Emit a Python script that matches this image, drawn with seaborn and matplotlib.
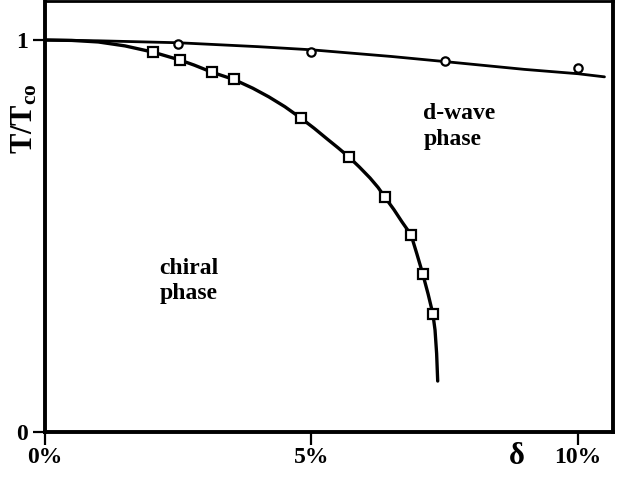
import matplotlib
matplotlib.use("Agg")
import matplotlib.pyplot as plt
import seaborn as sns
import pandas as pd

# ---- data ----
chiral_pts_x = [2.03, 2.53, 3.13, 3.55, 4.80, 5.70, 6.38, 6.87, 7.09, 7.28]
chiral_pts_y = [0.969, 0.949, 0.918, 0.901, 0.801, 0.702, 0.599, 0.503, 0.403, 0.301]

chiral_curve_x = [0, 0.5, 1.0, 1.5, 2.03, 2.53, 2.8, 3.13, 3.55, 3.9, 4.2, 4.5,
                  4.8, 5.05, 5.3, 5.5, 5.70, 5.9, 6.1, 6.25, 6.38, 6.55, 6.7,
                  6.87, 6.98, 7.09, 7.19, 7.28, 7.32, 7.35, 7.37]
chiral_curve_y = [1.0, 0.999, 0.995, 0.985, 0.969, 0.949, 0.936, 0.918, 0.899,
                  0.877, 0.855, 0.83, 0.801, 0.775, 0.747, 0.725, 0.702, 0.676,
                  0.648, 0.624, 0.599, 0.567, 0.536, 0.503, 0.454, 0.403, 0.352,
                  0.301, 0.26, 0.20, 0.13]

dwave_pts_x = [2.5, 5.0, 7.5, 10.0]
dwave_pts_y = [0.99, 0.969, 0.946, 0.929]

dwave_curve_x = [0, 1.0, 2.5, 4.0, 5.0, 6.5, 7.5, 9.0, 10.0, 10.5]
dwave_curve_y = [1.0, 0.998, 0.993, 0.983, 0.975, 0.958, 0.945, 0.925, 0.914, 0.906]

xticks = [0, 5, 10]
xticklabels = ["0%", "5%", "10%"]
yticks = [0, 1]
yticklabels = ["0", "1"]

# ---- style ----
sns.set_style("white")
plt.rcParams["font.family"] = ["Liberation Serif", "DejaVu Serif"]
plt.rcParams["font.weight"] = "bold"
plt.rcParams["text.color"] = "black"
plt.rcParams["axes.labelcolor"] = "black"
plt.rcParams["xtick.color"] = "black"
plt.rcParams["ytick.color"] = "black"
plt.rcParams["mathtext.fontset"] = "custom"
plt.rcParams["mathtext.rm"] = "Liberation Serif:bold"
plt.rcParams["mathtext.bf"] = "Liberation Serif:bold"
plt.rcParams["mathtext.it"] = "Liberation Serif:bold"

fig = plt.figure(figsize=(6.24, 4.78), dpi=100)
ax = fig.add_axes([45 / 624, (478 - 432) / 478, (613 - 45) / 624, (432 - 1) / 478])

chiral_curve = pd.DataFrame({"x": chiral_curve_x, "y": chiral_curve_y})
dwave_curve = pd.DataFrame({"x": dwave_curve_x, "y": dwave_curve_y})
chiral_pts = pd.DataFrame({"x": chiral_pts_x, "y": chiral_pts_y})
dwave_pts = pd.DataFrame({"x": dwave_pts_x, "y": dwave_pts_y})

sns.lineplot(data=dwave_curve, x="x", y="y", sort=False, color="black", lw=2.0, ax=ax)
sns.lineplot(data=chiral_curve, x="x", y="y", sort=False, color="black", lw=2.4, ax=ax)
ax.plot(chiral_pts["x"], chiral_pts["y"], ls="none", marker="s", ms=7,
        mfc="white", mec="black", mew=1.6, zorder=5)
ax.plot(dwave_pts["x"], dwave_pts["y"], ls="none", marker="o", ms=6,
        mfc="white", mec="black", mew=1.6, zorder=5)

ax.set_xlim(0, 10.66)
ax.set_ylim(0, 1.0995)

for s in ax.spines.values():
    s.set_visible(True)
    s.set_color("black")
    s.set_linewidth(2.8)
ax.spines["top"].set_linewidth(2.0)

ax.set_xticks(xticks)
ax.set_xticklabels(xticklabels, fontsize=17, fontweight="bold")
ax.set_yticks(yticks)
ax.set_yticklabels(yticklabels, fontsize=17)
ax.tick_params(axis="both", direction="out", length=9, width=1.6, color="black",
               labelcolor="black", bottom=True, left=True, pad=3)
ax.tick_params(axis="x", pad=2)

ax.set_xlabel("")
ax.set_ylabel(r"$\mathrm{T/T_{co}}$", fontsize=22, color="black")
ax.yaxis.set_label_coords(-0.01, 0.728)

ax.text(2.15, 0.385, "chiral\nphase", fontsize=17, fontweight="bold",
        ha="left", va="center", linespacing=1.3, color="black")
ax.text(7.1, 0.78, "d-wave\nphase", fontsize=17, fontweight="bold",
        ha="left", va="center", linespacing=1.3, color="black")
ax.text(8.85, -0.062, "δ", fontsize=22, fontweight="bold",
        ha="center", va="center", clip_on=False, color="black")

fig.savefig("out.png", dpi=100)
